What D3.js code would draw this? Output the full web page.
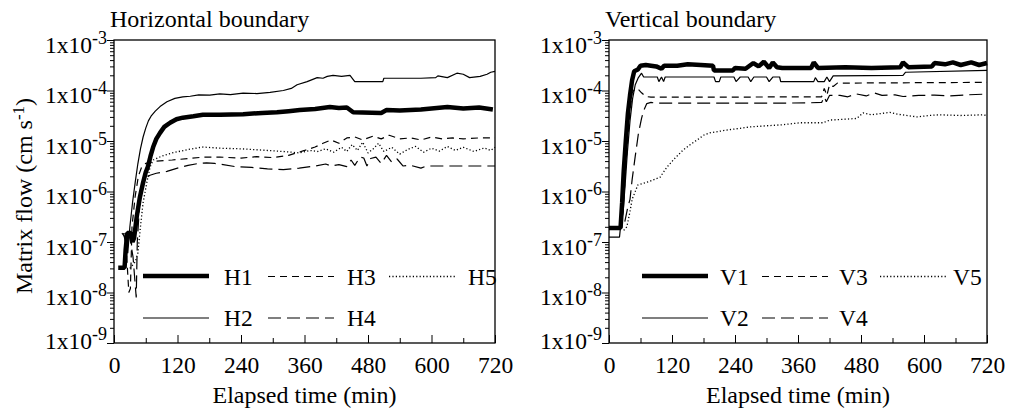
<!DOCTYPE html>
<html>
<head>
<meta charset="utf-8">
<script src="https://cdn.jsdelivr.net/npm/d3@7"></script>
<style>
  body { margin: 0; background: #fff; }
  text { font-family: "Liberation Serif", "Times New Roman", serif; fill: #000; }
</style>
</head>
<body>
<svg width="1014" height="412"></svg>
<script>
var svg = d3.select("svg");

// ticks
var timeTicks = [0, 120, 240, 360, 480, 600, 720];
var timeMinor = [60, 180, 300, 420, 540, 660];
var flowTicks = [1e-3, 1e-4, 1e-5, 1e-6, 1e-7, 1e-8, 1e-9];

// horizontal boundary, [min, cm/s]
var h1 = [[8,3.1e-8],[20,3.1e-8],[22,7e-8],[25,1.5e-7],[32,1.5e-7],[35,1e-7],[38,1.2e-7],[43,3.2e-7],[49,7.8e-7],[55,1.5e-6],[60,2.4e-6],[64,3.1e-6],[69,5e-6],[74,7.6e-6],[80,1.1e-5],[87,1.45e-5],[95,1.9e-5],[106,2.3e-5],[118,2.7e-5],[130,2.9e-5],[150,3.1e-5],[168,3.3e-5],[200,3.3e-5],[244,3.4e-5],[280,3.6e-5],[308,3.7e-5],[330,3.9e-5],[351,4.1e-5],[380,4.3e-5],[408,4.7e-5],[425,4.5e-5],[440,4.6e-5],[452,3.7e-5],[505,3.6e-5],[515,4.1e-5],[540,4.0e-5],[580,4.2e-5],[600,4.4e-5],[630,4.7e-5],[660,4.4e-5],[690,4.6e-5],[716,4.2e-5]];
var h2 = [[18,1.5e-7],[26,6e-8],[30,2e-7],[35,6e-7],[40,1.5e-6],[45,3.5e-6],[50,7e-6],[55,1.2e-5],[60,1.8e-5],[65,2.5e-5],[70,3.1e-5],[78,3.9e-5],[87,4.8e-5],[100,6e-5],[115,7e-5],[130,7.5e-5],[144,7.7e-5],[160,8.2e-5],[181,8.1e-5],[200,8.6e-5],[220,8.3e-5],[244,8.9e-5],[270,8.7e-5],[295,9.2e-5],[320,1.0e-4],[335,1.1e-4],[346,1.3e-4],[365,1.5e-4],[384,1.8e-4],[395,1.75e-4],[403,1.9e-4],[414,2.0e-4],[430,1.9e-4],[446,2.0e-4],[455,1.5e-4],[508,1.5e-4],[510,1.75e-4],[580,1.75e-4],[608,1.8e-4],[612,1.95e-4],[630,1.8e-4],[648,2.2e-4],[660,2.1e-4],[672,1.8e-4],[692,1.9e-4],[705,2.1e-4],[712,2.3e-4],[720,2.4e-4]];
var h3 = [[15,1.5e-7],[22,1.2e-7],[28,1e-8],[31,1.2e-8],[34,2e-7],[40,8e-7],[46,2e-6],[52,3e-6],[60,3.6e-6],[80,4e-6],[110,4.2e-6],[140,4.5e-6],[170,4.8e-6],[200,4.8e-6],[240,4.6e-6],[270,4.9e-6],[300,4.7e-6],[330,5.2e-6],[360,6.5e-6],[380,7.6e-6],[395,9e-6],[410,1.05e-5],[425,9e-6],[440,1.15e-5],[455,1.2e-5],[470,1.05e-5],[490,1.25e-5],[505,1.1e-5],[520,1.3e-5],[540,1.1e-5],[560,1.15e-5],[580,1.05e-5],[600,1.2e-5],[620,1.1e-5],[640,1.15e-5],[660,1.1e-5],[690,1.15e-5],[720,1.15e-5]];
var h4 = [[20,1.5e-7],[30,1.2e-7],[36,5e-8],[42,8e-9],[44,1e-7],[48,5e-7],[53,1.2e-6],[58,1.8e-6],[68,2.1e-6],[80,2.3e-6],[100,2.5e-6],[120,2.9e-6],[140,3.3e-6],[160,3.6e-6],[175,3.7e-6],[190,3.6e-6],[200,3.5e-6],[230,3.1e-6],[260,3.0e-6],[290,2.8e-6],[320,2.7e-6],[350,2.9e-6],[380,3.2e-6],[400,3.5e-6],[410,3.2e-6],[425,3.4e-6],[440,3.1e-6],[448,4.2e-6],[455,3.3e-6],[465,4.8e-6],[472,4.6e-6],[478,3.2e-6],[485,4.5e-6],[495,4.8e-6],[505,3.6e-6],[515,5.2e-6],[525,3.8e-6],[535,4.4e-6],[546,3.2e-6],[560,3.3e-6],[580,2.9e-6],[590,3.2e-6],[720,3.2e-6]];
var h5 = [[30,3e-8],[40,4e-8],[45,6e-8],[50,2e-7],[55,6e-7],[62,1.5e-6],[68,3e-6],[74,4.2e-6],[90,5e-6],[110,5.8e-6],[140,6.8e-6],[168,7.6e-6],[200,7.2e-6],[240,7e-6],[280,6.6e-6],[320,6.2e-6],[351,5.8e-6],[370,6.5e-6],[385,6.2e-6],[400,7e-6],[415,6e-6],[430,7.5e-6],[440,6.2e-6],[450,8.5e-6],[460,6.5e-6],[470,9.5e-6],[480,5.8e-6],[490,7e-6],[500,9e-6],[510,6.2e-6],[525,7.5e-6],[540,5.5e-6],[555,6.8e-6],[570,7.8e-6],[585,6e-6],[600,7.2e-6],[615,6.3e-6],[630,7.8e-6],[645,6.5e-6],[660,7.5e-6],[680,6.2e-6],[700,7.3e-6],[712,6.5e-6],[720,7.5e-6]];

// vertical boundary
var v1 = [[0,1.9e-7],[22,1.9e-7],[25,6e-7],[28,2.5e-6],[32,1e-5],[36,3.5e-5],[40,8e-5],[44,1.6e-4],[48,2.4e-4],[55,2.6e-4],[60,3.1e-4],[70,3.2e-4],[90,3e-4],[100,2.7e-4],[105,3.1e-4],[130,3.1e-4],[150,3.3e-4],[175,3.2e-4],[198,3.1e-4],[200,2.5e-4],[236,2.5e-4],[240,2.8e-4],[260,2.7e-4],[275,3.5e-4],[285,3e-4],[295,3.7e-4],[305,2.8e-4],[312,3.6e-4],[320,2.9e-4],[330,2.8e-4],[385,2.8e-4],[390,3.6e-4],[398,2.8e-4],[450,2.9e-4],[500,2.8e-4],[555,2.9e-4],[560,3.6e-4],[570,2.9e-4],[615,3.0e-4],[620,3.5e-4],[640,3.3e-4],[655,3.6e-4],[670,3.2e-4],[690,3.6e-4],[705,3.2e-4],[720,3.5e-4]];
var v2 = [[0,1.25e-7],[20,1.25e-7],[22,2e-7],[27,4e-7],[31,1.5e-6],[35,6e-6],[40,2.5e-5],[45,7e-5],[50,1.3e-4],[56,1.8e-4],[62,2.2e-4],[66,1.85e-4],[92,1.85e-4],[95,1.5e-4],[100,1.85e-4],[104,1.5e-4],[107,1.85e-4],[200,1.85e-4],[203,1.5e-4],[210,1.5e-4],[213,1.85e-4],[238,1.85e-4],[242,1.5e-4],[250,1.85e-4],[265,1.85e-4],[270,1.5e-4],[276,1.85e-4],[300,1.85e-4],[305,1.5e-4],[312,1.85e-4],[325,1.85e-4],[327,1.5e-4],[390,1.5e-4],[393,1.8e-4],[398,1.5e-4],[410,1.5e-4],[415,1.85e-4],[420,1.5e-4],[427,1.95e-4],[560,2.0e-4],[565,2.3e-4],[720,2.5e-4]];
var v3 = [[0,2e-7],[24,2e-7],[29,1e-6],[34,6e-6],[39,3e-5],[44,9e-5],[50,1.1e-4],[56,1.05e-4],[62,9e-5],[70,7.6e-5],[80,7.4e-5],[150,7.4e-5],[250,7.4e-5],[350,7.5e-5],[405,7.5e-5],[410,1.1e-4],[415,8e-5],[420,1.3e-4],[427,1.2e-4],[435,1.4e-4],[720,1.45e-4]];
var v4 = [[0,2e-7],[25,2e-7],[30,2.5e-7],[36,5e-7],[40,7e-7],[44,1.7e-6],[50,5e-6],[56,1.4e-5],[62,2.8e-5],[66,4e-5],[72,5.5e-5],[80,5.8e-5],[90,5.6e-5],[150,5.6e-5],[250,5.6e-5],[300,5.6e-5],[380,5.7e-5],[405,5.8e-5],[410,7.5e-5],[414,6e-5],[420,8e-5],[440,8e-5],[455,7.5e-5],[470,8.6e-5],[490,7.8e-5],[505,9e-5],[520,8e-5],[545,8.2e-5],[560,7.6e-5],[590,8e-5],[620,8.1e-5],[650,7.8e-5],[680,8.2e-5],[720,8.5e-5]];
var v5 = [[28,1.7e-7],[34,2e-7],[40,4e-7],[44,7e-7],[50,1e-6],[55,1.35e-6],[65,1.45e-6],[78,1.6e-6],[90,1.8e-6],[97,1.9e-6],[110,3e-6],[125,4.5e-6],[141,6.6e-6],[155,8.5e-6],[168,1.05e-5],[180,1.3e-5],[192,1.45e-5],[225,1.65e-5],[269,1.9e-5],[300,2e-5],[331,2.1e-5],[364,2.3e-5],[408,2.3e-5],[421,2.6e-5],[450,2.7e-5],[472,2.8e-5],[484,3.6e-5],[500,3.3e-5],[535,3.7e-5],[549,3.4e-5],[587,3e-5],[610,3.2e-5],[630,3.3e-5],[670,3.2e-5],[712,3.3e-5],[720,3.2e-5]];

var hNames = ["H1", "H2", "H3", "H4", "H5"];
var vNames = ["V1", "V2", "V3", "V4", "V5"];

// line look by series position
var lineStyle = [
  {w: 4.5, dash: null},
  {w: 1.2, dash: null},
  {w: 1.2, dash: "7,5"},
  {w: 1.2, dash: "13,6"},
  {w: 1.3, dash: "1.2,2.2"}
];

var plotTop = 40, plotBottom = 343;

function drawPanel(p) {
  var x = d3.scaleLinear().domain([0, 720]).range([p.left, p.right]);
  var y = d3.scaleLog().domain([1e-9, 1e-3]).range([plotBottom, plotTop]);
  var g = svg.append("g");

  // minor log ticks
  var minor = [];
  flowTicks.slice(1).forEach(function (d) {
    for (var k = 2; k < 10; k++) minor.push(d * k);
  });
  g.append("g")
      .attr("transform", "translate(" + p.left + ",0)")
      .call(d3.axisLeft(y).tickValues(minor).tickSize(4).tickFormat(""))
      .call(function (a) { a.select(".domain").remove(); });

  var yAx = g.append("g")
      .attr("transform", "translate(" + p.left + ",0)")
      .call(d3.axisLeft(y).tickValues(flowTicks).tickSize(7).tickPadding(0))
      .call(function (a) { a.select(".domain").remove(); });
  yAx.selectAll(".tick text").each(function (d) {
    var t = d3.select(this), e = Math.round(Math.log10(d));
    t.text(null).attr("dy", null).attr("y", e == -9 ? 5 : 12)
        .style("font-size", "23.5px");
    t.append("tspan").text("1x10");
    t.append("tspan").attr("dy", -9).style("font-size", "18px").text("-" + (-e));
  });

  g.append("g")
      .attr("transform", "translate(0," + plotBottom + ")")
      .call(d3.axisBottom(x).tickValues(timeMinor).tickSize(-5).tickFormat(""))
      .call(function (a) { a.select(".domain").remove(); });
  g.append("g")
      .attr("transform", "translate(0," + plotBottom + ")")
      .call(d3.axisBottom(x).tickValues(timeTicks).tickSizeInner(-8).tickSizeOuter(0).tickPadding(13))
      .call(function (a) { a.select(".domain").remove(); })
      .selectAll(".tick text").style("font-size", "23.5px");

  g.selectAll(".tick line").attr("stroke", "#000").attr("stroke-width", 1);

  g.append("rect")
      .attr("x", p.left).attr("y", plotTop)
      .attr("width", p.right - p.left).attr("height", plotBottom - plotTop)
      .attr("fill", "none").attr("stroke", "#000").attr("stroke-width", 1.3);

  var line = d3.line().x(function (d) { return x(d[0]); }).y(function (d) { return y(d[1]); });

  p.series.forEach(function (s, i) {
    g.append("path")
        .datum(s)
        .attr("d", line)
        .attr("fill", "none")
        .attr("stroke", "#000")
        .attr("stroke-width", lineStyle[i].w)
        .attr("stroke-dasharray", lineStyle[i].dash)
        .attr("stroke-linejoin", "bevel");
  });

  // legend, two rows by three columns
  var rowLine = [276, 317.5], rowText = [285, 326];
  p.names.forEach(function (n, i) {
    var col = Math.floor(i / 2), row = i % 2;
    var x0 = p.left + p.legSample[col];
    var ly = rowLine[row] + (i == 0 ? 0 : 0.5);
    g.append("line")
        .attr("x1", x0).attr("x2", x0 + 66)
        .attr("y1", ly).attr("y2", ly)
        .attr("stroke", "#000")
        .attr("stroke-width", lineStyle[i].w)
        .attr("stroke-dasharray", lineStyle[i].dash);
    g.append("text")
        .attr("x", p.left + p.legText[col]).attr("y", rowText[row])
        .style("font-size", "23.5px")
        .text(n);
  });

  g.append("text")
      .attr("x", p.left - 4).attr("y", 27)
      .style("font-size", "24px")
      .text(p.title);

  g.append("text")
      .attr("x", (p.left + p.right) / 2).attr("y", 403)
      .attr("text-anchor", "middle")
      .style("font-size", "24px")
      .text("Elapsed time (min)");
}

drawPanel({left: 114, right: 495, title: "Horizontal boundary",
  series: [h1, h2, h3, h4, h5], names: hNames,
  legSample: [29, 154, 275], legText: [110, 233, 354]});
drawPanel({left: 609, right: 987, title: "Vertical boundary",
  series: [v1, v2, v3, v4, v5], names: vNames,
  legSample: [33, 153, 271], legText: [111, 230, 344]});

var yt = svg.append("text")
    .attr("transform", "translate(32,196) rotate(-90)")
    .attr("text-anchor", "middle")
    .style("font-size", "24px");
yt.append("tspan").text("Matrix flow (cm s");
yt.append("tspan").attr("dy", -8).style("font-size", "17px").text("-1");
yt.append("tspan").attr("dy", 8).text(")");
</script>
</body>
</html>
